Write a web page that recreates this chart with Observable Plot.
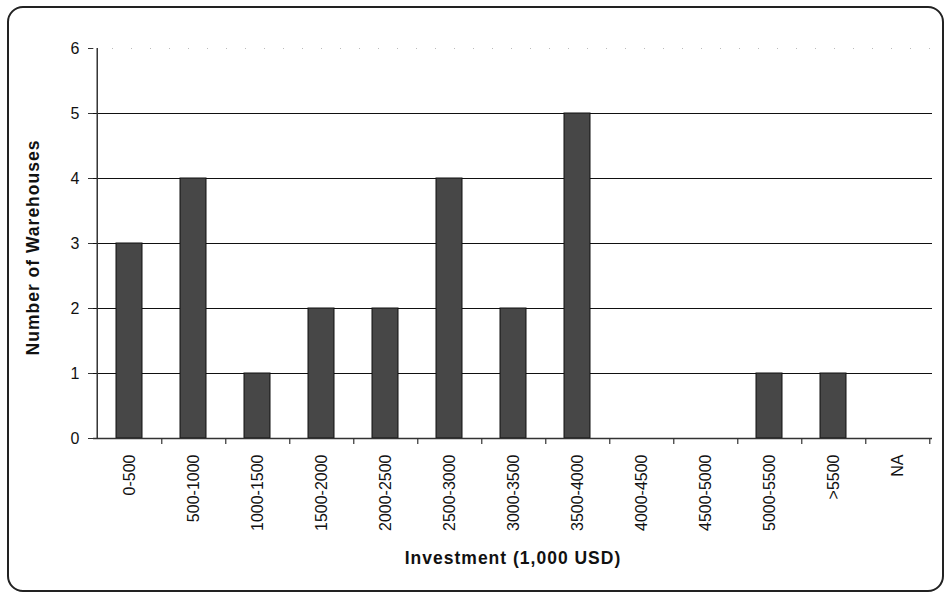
<!DOCTYPE html>
<html>
<head>
<meta charset="utf-8">
<script src="https://cdn.jsdelivr.net/npm/d3@7"></script>
<script src="https://cdn.jsdelivr.net/npm/@observablehq/plot@0.6"></script>
<style>
  body { margin: 0; background: #fff; }
  #wrap { position: relative; width: 948px; height: 593px; overflow: hidden; }
  #frame { position: absolute; left: 7px; top: 6px; width: 933px; height: 582px;
           border: 2px solid #222; border-radius: 16px; pointer-events: none; }
  #chart { position: absolute; left: 0; top: 0; }
</style>
</head>
<body>
<div id="wrap"><div id="chart"></div><div id="frame"></div></div>
<script>
const categories = ["0-500","500-1000","1000-1500","1500-2000","2000-2500","2500-3000",
  "3000-3500","3500-4000","4000-4500","4500-5000","5000-5500",">5500","NA"];
const counts = [3,4,1,2,2,4,2,5,0,0,1,1,0];
const yTicks = [0,1,2,3,4,5,6];
const gridLines = [1,2,3,4,5];
const xTitle = "Investment (1,000 USD)";
const yTitle = "Number of Warehouses";

const data = categories.map((c, i) => ({category: c, count: counts[i]}));

const W = 948, H = 593, mL = 93, mR = 16, mT = 48, mB = 155;
const step = (W - mL - mR) / categories.length;

const plot = Plot.plot({
  width: W, height: H,
  marginLeft: mL, marginRight: mR, marginTop: mT, marginBottom: mB,
  style: {fontFamily: "'Liberation Sans', Arial, sans-serif", fontSize: "16px", color: "#111", background: "transparent"},
  x: {domain: categories, paddingInner: 0.6, paddingOuter: 0.3, align: 0.5, label: null},
  y: {domain: [0, 6], label: null},
  marks: [
    Plot.ruleY(gridLines, {stroke: "#111", strokeWidth: 1.2}),
    Plot.ruleY([6], {stroke: "#bbb", strokeWidth: 1, strokeDasharray: "1,18"}),
    Plot.barY(data, {x: "category", y: "count", fill: "#474747", stroke: "#111", strokeWidth: 1}),
    Plot.ruleY([0], {stroke: "#333", strokeWidth: 1.5}),
    Plot.ruleX([0], {x: () => categories[0], dx: -step / 2, y1: 0, y2: 6, stroke: "#333", strokeWidth: 1.5}),
    Plot.ruleX(categories, {x: d => d, dx: step / 2, y1: 0, y2: 0, insetBottom: -6, stroke: "#333", strokeWidth: 1.2}),
    Plot.axisY(yTicks, {anchor: "left", tickSize: 5, tickPadding: 9, fontSize: 16, stroke: "#333", tickFormat: d3.format("d")}),
    Plot.axisX({anchor: "bottom", tickSize: 0, tickPadding: 16, tickRotate: -90, fontSize: 16, label: null}),
    Plot.text([xTitle], {frameAnchor: "bottom", dy: 125, text: d => d, fontWeight: "bold", fontSize: 17.5}),
    Plot.text([yTitle], {frameAnchor: "left", dx: -60, dy: 4, rotate: -90, textAnchor: "middle", text: d => d, fontWeight: "bold", fontSize: 17.5})
  ]
});
d3.select(plot).selectAll("text")
  .filter(function() { const t = this.textContent; return t === xTitle || t === yTitle; })
  .attr("letter-spacing", "1px");
document.getElementById("chart").appendChild(plot);
</script>
</body>
</html>
